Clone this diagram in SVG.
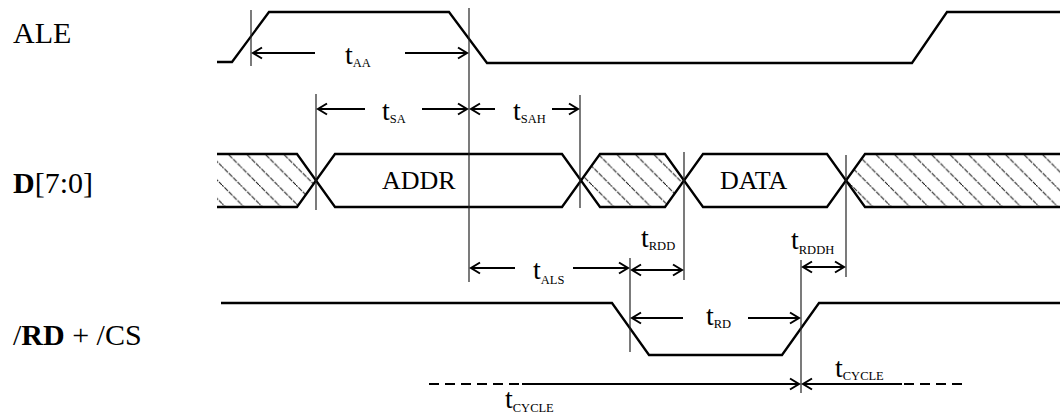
<svg xmlns="http://www.w3.org/2000/svg" width="1060" height="418" viewBox="0 0 1060 418">
<style>
.sig{fill:none;stroke:#000;stroke-width:2.3;stroke-linejoin:miter}
.ref{fill:none;stroke:#222;stroke-width:1.2}
.arr{fill:none;stroke:#000;stroke-width:2}
.dash{fill:none;stroke:#000;stroke-width:2;stroke-dasharray:10 6}
.lbl{font-size:30px;fill:#000}
.t{font-size:28px;fill:#000}
.s{font-size:12.5px}
.bus{font-size:26px;fill:#000}
</style>
<defs>
<marker id="ah" viewBox="-10 -7 12 14" markerWidth="12" markerHeight="14" refX="0" refY="0" orient="auto-start-reverse" markerUnits="userSpaceOnUse">
<path d="M-9,-5.5 L0,0 L-9,5.5" fill="none" stroke="#000" stroke-width="2"/>
</marker>
<pattern id="hatch" patternUnits="userSpaceOnUse" width="18.5" height="18.5">
<path d="M-2,-2 L20.5,20.5" stroke="#111" stroke-width="1" stroke-dasharray="5 1.2"/>
</pattern>
</defs>
<rect width="1060" height="418" fill="#fff"/>

<g id="labels" font-family="'Liberation Serif', 'DejaVu Serif', serif">
<text class="lbl" x="13" y="43">ALE</text>
<text class="lbl" x="13" y="193"><tspan font-weight="bold">D</tspan>[7:0]</text>
<text class="lbl" x="13" y="345">/<tspan font-weight="bold">RD</tspan> + /CS</text>
</g>

<g id="ale">
<polyline class="sig" points="217,62 232,62 269,12 449,12 487,63 912,63 947,12 1060,12"/>
</g>

<g id="data-bus">
<polygon points="217,154 297,154 316,181 297,207 217,207" fill="url(#hatch)"/>
<polygon points="581,181 600,154 665,154 684,181 665,207 600,207" fill="url(#hatch)"/>
<polygon points="846,181 865,154 1060,154 1060,207 865,207" fill="url(#hatch)"/>
<polyline class="sig" points="217,154 297,154 335,207 562,207 600,154 665,154 703,207 827,207 865,154 1060,154"/>
<polyline class="sig" points="217,207 297,207 335,154 562,154 600,207 665,207 703,154 827,154 865,207 1060,207"/>
<g font-family="'Liberation Serif', 'DejaVu Serif', serif">
<text class="bus" x="382" y="189">ADDR</text>
<text class="bus" x="720" y="189">DATA</text>
</g>
</g>

<g id="rd-cs">
<polyline class="sig" points="221,303 612,303 649,355 782,355 819,303 1060,303"/>
</g>

<g id="reference-lines">
<line class="ref" x1="251" y1="10" x2="251" y2="66"/>
<line class="ref" x1="469" y1="8" x2="469" y2="282"/>
<line class="ref" x1="316" y1="94" x2="316" y2="210"/>
<line class="ref" x1="580" y1="95" x2="580" y2="208"/>
<line class="ref" x1="630" y1="258" x2="630" y2="352"/>
<line class="ref" x1="684" y1="152" x2="684" y2="280"/>
<line class="ref" x1="801" y1="260" x2="801" y2="393"/>
<line class="ref" x1="846" y1="155" x2="846" y2="277"/>
</g>

<g id="connectors">
<line class="arr" x1="253" y1="53" x2="315" y2="53" marker-start="url(#ah)"/>
<line class="arr" x1="405" y1="53" x2="467" y2="53" marker-end="url(#ah)"/>
<line class="arr" x1="318" y1="109" x2="365" y2="109" marker-start="url(#ah)"/>
<line class="arr" x1="422" y1="109" x2="467" y2="109" marker-end="url(#ah)"/>
<line class="arr" x1="471" y1="109" x2="495" y2="109" marker-start="url(#ah)"/>
<line class="arr" x1="552" y1="109" x2="578" y2="109" marker-end="url(#ah)"/>
<line class="arr" x1="471" y1="268" x2="515" y2="268" marker-start="url(#ah)"/>
<line class="arr" x1="573" y1="268" x2="628" y2="268" marker-end="url(#ah)"/>
<line class="arr" x1="632" y1="270" x2="682" y2="270" marker-start="url(#ah)" marker-end="url(#ah)"/>
<line class="arr" x1="803" y1="267" x2="844" y2="267" marker-start="url(#ah)" marker-end="url(#ah)"/>
<line class="arr" x1="632" y1="318" x2="683" y2="318" marker-start="url(#ah)"/>
<line class="arr" x1="748" y1="318" x2="799" y2="318" marker-end="url(#ah)"/>
<line class="dash" x1="429" y1="384" x2="520" y2="384"/>
<line class="arr" x1="522" y1="384" x2="799" y2="384" marker-end="url(#ah)"/>
<line class="arr" x1="803" y1="384" x2="902" y2="384" marker-start="url(#ah)"/>
<line class="dash" x1="904" y1="384" x2="965" y2="384"/>
</g>

<g id="timing-labels" font-family="'Liberation Serif', 'DejaVu Serif', serif">
<text class="t" x="345" y="64">t<tspan class="s" y="67">AA</tspan></text>
<text class="t" x="382" y="120">t<tspan class="s" y="123">SA</tspan></text>
<text class="t" x="513" y="120">t<tspan class="s" y="123">SAH</tspan></text>
<text class="t" x="533" y="279">t<tspan class="s" y="284">ALS</tspan></text>
<text class="t" x="641" y="247">t<tspan class="s" y="250">RDD</tspan></text>
<text class="t" x="791" y="249">t<tspan class="s" y="254">RDDH</tspan></text>
<text class="t" x="706" y="325">t<tspan class="s" y="328">RD</tspan></text>
<text class="t" x="835" y="377">t<tspan class="s" y="380">CYCLE</tspan></text>
<text class="t" x="505" y="408">t<tspan class="s" y="412">CYCLE</tspan></text>
</g>
</svg>
